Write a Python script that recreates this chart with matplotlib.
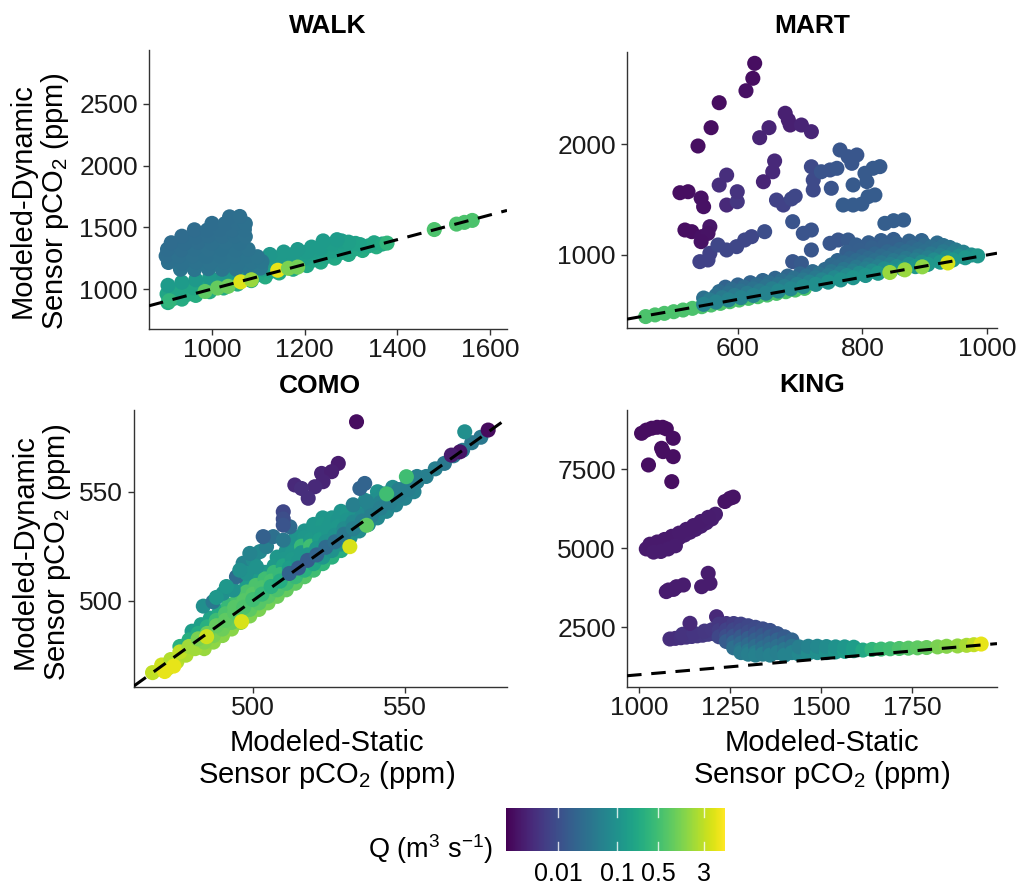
import matplotlib
matplotlib.use("Agg")
import matplotlib.pyplot as plt
from matplotlib import cm
from matplotlib.colors import LogNorm
from matplotlib.ticker import NullLocator

plt.rcParams['font.family'] = ['Liberation Sans', 'DejaVu Sans']
plt.rcParams['mathtext.fontset'] = 'custom'
plt.rcParams['mathtext.rm'] = 'Liberation Sans'
plt.rcParams['mathtext.it'] = 'Liberation Sans:italic'
plt.rcParams['mathtext.bf'] = 'Liberation Sans:bold'
plt.rcParams['lines.scale_dashes'] = False

# ---------------------------------------------------------------------------
# Data: (modeled-static pCO2, modeled-dynamic pCO2, discharge Q) per site
# ---------------------------------------------------------------------------
walk_band = [
    (905, 890, 0.25), (935, 918, 0.25), (965, 948, 0.26), (995, 978, 0.26),
    (1025, 1008, 0.25), (1055, 1040, 0.25), (1085, 1068, 0.24), (1115, 1098, 0.24),
    (1145, 1130, 0.24), (1175, 1160, 0.23), (1205, 1190, 0.22), (1235, 1218, 0.22),
    (1265, 1250, 0.22), (1295, 1280, 0.22), (1325, 1312, 0.24), (1355, 1342, 0.26),
    (918, 925, 0.24), (948, 958, 0.24), (978, 990, 0.24), (1008, 1022, 0.23),
    (1038, 1052, 0.22), (1068, 1085, 0.22), (1098, 1115, 0.21), (1128, 1145, 0.21),
    (1158, 1175, 0.2), (1188, 1205, 0.2), (1218, 1235, 0.2), (1248, 1265, 0.2),
    (1278, 1295, 0.2), (1308, 1325, 0.21), (1338, 1350, 0.22),
    (903, 960, 0.2), (930, 985, 0.2), (960, 1010, 0.2), (990, 1040, 0.19),
    (1020, 1070, 0.18), (1050, 1100, 0.18), (1080, 1130, 0.17), (1110, 1160, 0.17),
    (1140, 1190, 0.17), (1170, 1220, 0.16), (1200, 1250, 0.16), (1230, 1280, 0.16),
    (1260, 1310, 0.16), (1290, 1335, 0.17), (1320, 1360, 0.18), (1350, 1375, 0.2),
    (1368, 1365, 0.22),
    (1100, 1205, 0.15), (1130, 1240, 0.15), (1160, 1270, 0.15), (1190, 1290, 0.15),
    (1220, 1315, 0.15), (1250, 1340, 0.16), (1280, 1360, 0.16), (1310, 1370, 0.18),
    (905, 1030, 0.14), (935, 1055, 0.14), (965, 1075, 0.13), (995, 1095, 0.13),
    (1025, 1110, 0.12), (1055, 1130, 0.12), (1085, 1170, 0.12), (1115, 1225, 0.13),
    (1145, 1255, 0.13), (1175, 1280, 0.13), (1205, 1300, 0.14), (1235, 1330, 0.14),
    (1260, 1365, 0.15), (1280, 1390, 0.15), (1295, 1380, 0.16), (1240, 1390, 0.14),
    (1270, 1400, 0.14), (1215, 1340, 0.14), (1185, 1320, 0.13), (1155, 1300, 0.13),
    (1125, 1280, 0.12),
]
walk_upper = [
    (932, 1160, 0.035), (962, 1158, 0.035), (992, 1165, 0.035), (1022, 1160, 0.036),
    (1052, 1162, 0.036), (1082, 1158, 0.038), (1105, 1170, 0.04),
    (906, 1215, 0.03), (936, 1210, 0.032), (966, 1218, 0.033), (996, 1212, 0.034),
    (1026, 1216, 0.034), (1056, 1210, 0.035), (1086, 1218, 0.036), (1108, 1222, 0.038),
    (901, 1268, 0.028), (928, 1265, 0.03), (958, 1270, 0.031), (988, 1264, 0.032),
    (1018, 1270, 0.033), (1048, 1266, 0.034), (1076, 1270, 0.035), (1098, 1262, 0.036),
    (904, 1322, 0.027), (934, 1318, 0.028), (962, 1325, 0.03), (992, 1320, 0.031),
    (1022, 1324, 0.032), (1052, 1318, 0.033), (1078, 1322, 0.034),
    (912, 1375, 0.026), (942, 1372, 0.027), (970, 1378, 0.028), (1000, 1374, 0.03),
    (1030, 1378, 0.031), (1060, 1372, 0.032),
    (935, 1428, 0.026), (965, 1425, 0.027), (992, 1432, 0.028), (1022, 1428, 0.029),
    (1050, 1430, 0.03), (1072, 1425, 0.031),
    (962, 1480, 0.026), (990, 1478, 0.027), (1016, 1484, 0.028), (1044, 1480, 0.029),
    (1070, 1482, 0.03),
    (1000, 1532, 0.027), (1028, 1530, 0.028), (1055, 1535, 0.029), (1072, 1530, 0.03),
    (1038, 1585, 0.028), (1060, 1588, 0.029),
]
walk_line = [
    (908, 905, 0.35), (985, 980, 0.8), (1012, 1008, 0.9), (1035, 1022, 1.0),
    (1062, 1058, 4.5), (1085, 1075, 1.8), (1142, 1152, 5.0), (1165, 1168, 1.2),
    (1185, 1178, 1.1), (1378, 1372, 0.35), (1480, 1482, 0.6), (1528, 1526, 0.6),
    (1545, 1540, 0.6), (1562, 1556, 0.6),
]

mart_green = [
    (452, 445, 0.6), (467, 460, 0.6), (482, 474, 0.6), (497, 489, 0.6),
    (512, 504, 0.6), (527, 519, 0.6), (542, 534, 0.6), (557, 549, 0.6),
    (572, 564, 0.6), (587, 579, 0.6), (602, 594, 0.6), (617, 609, 0.6),
    (632, 624, 0.6), (647, 639, 0.6), (662, 654, 0.6), (677, 669, 0.6),
    (692, 684, 0.6), (707, 699, 0.6),
]
mart_scatter = [
    (627, 2727, 0.0018), (624, 2592, 0.0018), (613, 2480, 0.0019), (570, 2372, 0.0017),
    (557, 2147, 0.0018), (536, 1982, 0.0018), (507, 1561, 0.0018), (520, 1570, 0.0018),
    (541, 1513, 0.0019), (545, 1435, 0.0019), (515, 1225, 0.0018), (526, 1210, 0.0018),
    (542, 1165, 0.0019), (555, 1255, 0.0022), (552, 1195, 0.002), (541, 1120, 0.0019),
    (570, 1630, 0.004), (582, 1720, 0.004), (582, 1450, 0.0035), (599, 1480, 0.005),
    (599, 1570, 0.0045), (635, 2057, 0.003), (650, 2147, 0.003), (659, 1847, 0.0035),
    (656, 1750, 0.0035), (641, 1660, 0.003), (676, 2277, 0.0028), (681, 2216, 0.0028),
    (684, 2171, 0.0028), (702, 2171, 0.003), (718, 2111, 0.0032),
    (539, 940, 0.007), (555, 1015, 0.007), (568, 1090, 0.008), (582, 1045, 0.008),
    (598, 1075, 0.008), (611, 1135, 0.008), (622, 1165, 0.008), (643, 1210, 0.01),
    (552, 955, 0.007),
    (662, 1495, 0.007), (673, 1450, 0.007), (686, 1505, 0.008), (692, 1530, 0.008),
    (688, 1300, 0.012), (705, 1195, 0.012), (718, 1225, 0.012), (718, 1045, 0.013),
    (688, 940, 0.013), (718, 1795, 0.009), (721, 1676, 0.009), (721, 1586, 0.009),
    (748, 1105, 0.013), (761, 1135, 0.013), (777, 1135, 0.014),
    (734, 1750, 0.012), (748, 1766, 0.012), (759, 1781, 0.013), (750, 1601, 0.012),
    (764, 1946, 0.013), (777, 1886, 0.013), (791, 1901, 0.013), (783, 1826, 0.013),
    (804, 1736, 0.014), (817, 1781, 0.014), (828, 1796, 0.014), (785, 1631, 0.014),
    (807, 1661, 0.014), (769, 1450, 0.015), (785, 1450, 0.015), (799, 1459, 0.015),
    (809, 1525, 0.015), (820, 1541, 0.015), (836, 1285, 0.016), (850, 1309, 0.016),
    (866, 1315, 0.016), (702, 925, 0.014),
]
mart_band_top = [
    (790, 1090, 0.016), (810, 1110, 0.016), (830, 1130, 0.016), (850, 1140, 0.016),
    (775, 1025, 0.017), (795, 1045, 0.017), (815, 1065, 0.018), (835, 1085, 0.018),
    (855, 1105, 0.018), (875, 1125, 0.019), (895, 1130, 0.02),
    (760, 950, 0.02), (780, 970, 0.02), (800, 990, 0.021), (820, 1010, 0.021),
    (840, 1030, 0.022), (860, 1050, 0.022), (880, 1070, 0.023), (900, 1090, 0.024),
    (920, 1108, 0.025),
    (750, 910, 0.024), (770, 930, 0.024), (790, 950, 0.025), (810, 970, 0.025),
    (830, 990, 0.026), (850, 1010, 0.026), (870, 1030, 0.027), (890, 1050, 0.027),
    (910, 1070, 0.028), (930, 1085, 0.03),
]
mart_band_mid = [
    (580, 710, 0.02), (600, 730, 0.02), (620, 750, 0.02), (640, 770, 0.021),
    (660, 790, 0.021), (680, 810, 0.022), (700, 830, 0.022), (720, 850, 0.024),
    (740, 870, 0.025), (760, 890, 0.026), (780, 910, 0.028), (800, 930, 0.03),
    (820, 950, 0.03), (840, 970, 0.03), (860, 990, 0.03), (880, 1010, 0.03),
    (900, 1030, 0.03), (920, 1050, 0.032), (940, 1068, 0.034),
    (570, 670, 0.025), (590, 690, 0.026), (610, 710, 0.026), (630, 730, 0.027),
    (650, 750, 0.028), (670, 770, 0.028), (690, 790, 0.03), (710, 810, 0.032),
    (730, 830, 0.034), (750, 850, 0.036), (770, 870, 0.038), (790, 890, 0.04),
    (810, 910, 0.04), (830, 930, 0.04), (850, 950, 0.04), (870, 970, 0.04),
    (890, 990, 0.04), (910, 1010, 0.04), (930, 1030, 0.042), (950, 1045, 0.045),
    (545, 612, 0.03), (565, 635, 0.03), (585, 655, 0.032), (605, 675, 0.032),
    (625, 695, 0.033), (645, 715, 0.034), (665, 735, 0.035), (685, 755, 0.036),
    (705, 775, 0.04), (725, 795, 0.042), (745, 815, 0.045), (765, 835, 0.048),
    (785, 855, 0.05), (805, 875, 0.05), (825, 895, 0.05), (845, 915, 0.05),
    (865, 935, 0.05), (885, 955, 0.05), (905, 975, 0.05), (925, 995, 0.05),
    (945, 1012, 0.05), (962, 1025, 0.055),
]
mart_band_low = [
    (555, 595, 0.045), (575, 615, 0.045), (595, 635, 0.045), (615, 655, 0.045),
    (635, 675, 0.045), (655, 695, 0.05), (675, 715, 0.05), (695, 735, 0.055),
    (715, 755, 0.06), (735, 775, 0.065), (755, 795, 0.07), (775, 815, 0.075),
    (795, 835, 0.08), (815, 855, 0.08), (835, 875, 0.08), (855, 895, 0.08),
    (875, 915, 0.08), (895, 935, 0.08), (915, 955, 0.08), (935, 975, 0.08),
    (955, 990, 0.08), (975, 1000, 0.09),
    (545, 555, 0.06), (565, 575, 0.06), (585, 595, 0.06), (605, 615, 0.06),
    (625, 635, 0.06), (645, 655, 0.06), (665, 675, 0.07), (685, 695, 0.07),
    (705, 715, 0.08), (725, 735, 0.09), (745, 755, 0.1), (765, 775, 0.1),
    (785, 795, 0.11), (805, 815, 0.11), (825, 835, 0.12), (845, 855, 0.12),
    (865, 875, 0.12), (885, 895, 0.12), (905, 915, 0.12), (925, 935, 0.12),
    (945, 955, 0.12), (965, 975, 0.12), (985, 992, 0.12),
]
mart_line = [(844, 842, 1.8), (868, 866, 1.8), (896, 893, 1.6), (937, 928, 4.0)]

como_upper = [
    (514, 529, 0.11), (517, 532, 0.11), (520, 535, 0.12), (523, 538, 0.12),
    (508, 520, 0.12), (511, 523, 0.11), (514, 526, 0.11), (517, 529, 0.12),
    (520, 532, 0.12), (523, 535, 0.13), (526, 538, 0.12), (529, 541, 0.11),
    (495, 504, 0.15), (498, 507, 0.15), (501, 510, 0.14), (504, 513, 0.13),
    (507, 516, 0.13), (510, 519, 0.12), (513, 522, 0.12), (516, 525, 0.4),
    (519, 528, 0.13), (522, 531, 0.12), (525, 534, 0.12), (528, 537, 0.11),
    (531, 540, 0.12), (534, 543, 0.11), (537, 546, 0.1), (541, 550, 0.1),
    (480, 486, 0.15), (483, 489, 0.16), (486, 492, 0.18), (489, 495, 0.22),
    (492, 498, 0.4), (495, 501, 0.55), (498, 504, 0.6), (501, 507, 0.6),
    (504, 510, 0.5), (507, 513, 0.4), (510, 516, 0.2), (513, 519, 0.13),
    (516, 522, 0.12), (519, 525, 0.5), (522, 528, 0.15), (525, 531, 0.12),
    (528, 534, 0.12), (531, 537, 0.11), (534, 540, 0.1), (537, 543, 0.1),
    (540, 546, 0.09), (543, 549, 0.09), (546, 552, 0.08),
    (476, 479, 0.3), (479, 482, 0.28), (482, 485, 0.25), (485, 488, 0.3),
    (488, 491, 0.45), (491, 494, 0.6), (494, 497, 0.7), (497, 500, 0.7),
    (500, 503, 0.7), (503, 506, 0.6), (506, 509, 0.55), (509, 512, 0.4),
    (512, 515, 0.15), (515, 518, 0.12), (518, 521, 0.12), (521, 524, 0.12),
    (524, 527, 0.1), (527, 530, 0.1), (530, 533, 0.08), (533, 536, 0.07),
    (536, 539, 0.07), (539, 542, 0.06), (542, 545, 0.06), (545, 548, 0.06),
    (548, 551, 0.05), (551, 554, 0.05), (554, 557, 0.05),
]
como_lower = [
    (484, 478, 1.8), (487, 481, 1.6), (490, 484, 1.5), (493, 487, 1.5),
    (496, 490, 1.4), (499, 493, 1.3), (502, 496, 1.2), (505, 499, 1.1),
    (508, 502, 1.0), (511, 505, 0.9), (514, 508, 0.8), (517, 511, 0.7),
    (520, 514, 0.5), (523, 517, 0.35), (526, 520, 0.3), (529, 523, 0.25),
    (472, 469, 2.8), (475, 472, 2.6), (478, 475, 2.4), (481, 478, 2.0),
    (484, 481, 1.4), (487, 484, 1.2), (490, 487, 1.0), (493, 490, 0.9),
    (496, 493, 0.8), (499, 496, 0.8), (502, 499, 0.7), (505, 502, 0.7),
    (508, 505, 0.6), (511, 508, 0.5), (514, 511, 0.4), (517, 514, 0.3),
    (520, 517, 0.2), (523, 520, 0.12), (526, 523, 0.1), (529, 526, 0.1),
    (532, 529, 0.09), (535, 532, 0.08), (538, 535, 0.08), (541, 538, 0.07),
    (544, 541, 0.07), (547, 544, 0.06), (550, 547, 0.06), (553, 550, 0.06),
]
como_line = [
    (467, 467.0, 3.0), (470, 470.5, 3.5), (473, 473.0, 2.5), (476, 476.5, 3.0),
    (479, 479.0, 2.0), (482, 482.5, 1.2), (485, 485.0, 1.0), (488, 488.5, 0.9),
    (491, 491.0, 0.8), (494, 494.5, 0.7), (497, 497.0, 0.6), (500, 500.5, 0.5),
    (503, 503.0, 0.4), (506, 506.5, 0.3), (509, 509.0, 0.25), (512, 512.5, 0.02),
    (515, 515.0, 0.015), (518, 518.5, 0.015), (521, 521.0, 0.02), (524, 524.5, 0.025),
    (527, 527.0, 0.03), (530, 530.5, 0.04), (533, 533.0, 0.05), (536, 536.5, 0.05),
    (539, 539.0, 0.05), (542, 542.5, 0.05), (545, 545.0, 0.05), (548, 548.5, 0.05),
    (551, 551.0, 0.05), (554, 554.5, 0.05), (557, 557.0, 0.05), (560, 560.5, 0.05),
    (563, 563.0, 0.04), (566, 566.5, 0.04), (569, 569.0, 0.04), (572, 572.5, 0.04),
    (575, 575.0, 0.04),
]
como_ridge = [
    (483.7, 497.5, 0.09), (486.9, 499.5, 0.04), (490.2, 503.4, 0.09), (493.5, 504.9, 0.1),
    (494.6, 511.0, 0.025), (496.8, 517.2, 0.06), (497.9, 512.6, 0.1), (500.1, 518.7, 0.08),
    (501.2, 515.6, 0.1), (502.3, 522.5, 0.07), (504.5, 524.8, 0.05), (506.7, 529.4, 0.03),
    (510.0, 527.8, 0.04), (512.2, 533.9, 0.025), (491.3, 506.5, 0.12), (488.0, 501.5, 0.12),
    (499.0, 521.7, 0.06), (503.4, 529.4, 0.018), (495.7, 514.0, 0.09),
]
como_high = [
    (534.1, 582.1, 0.0017), (577.4, 578.3, 0.0016), (569.7, 577.5, 0.09),
    (568.1, 568.3, 0.002), (565.3, 566.8, 0.0025), (528.1, 563.0, 0.0025),
    (522.6, 558.4, 0.003), (525.9, 559.2, 0.0028), (523.1, 554.6, 0.003),
    (520.4, 552.3, 0.0035), (518.2, 547.0, 0.004), (513.8, 553.1, 0.0035),
    (516.0, 551.5, 0.004), (510.0, 540.8, 0.008), (510.0, 537.5, 0.01),
    (510.0, 534.7, 0.012), (535.2, 551.5, 0.02), (536.8, 553.8, 0.02),
    (533.0, 544.0, 0.05), (537.4, 545.4, 0.06), (544.0, 549.0, 0.5),
    (550.5, 556.9, 0.5), (537.4, 534.6, 0.8), (531.9, 524.8, 4.0),
    (496.3, 490.4, 4.0), (484.8, 483.5, 3.5), (471.0, 467.5, 5.0), (474.0, 470.0, 5.0),
]

king_high = [
    (1007, 8640, 0.0017), (1020, 8740, 0.0017), (1035, 8800, 0.0017), (1050, 8830, 0.0017),
    (1065, 8830, 0.0017), (1075, 8780, 0.0017), (1094, 8482, 0.0018), (1062, 8165, 0.0018),
    (1066, 8060, 0.0018), (1094, 7900, 0.0018), (1026, 7637, 0.0018), (1090, 7110, 0.0018),
    (1250, 6583, 0.002), (1236, 6480, 0.002), (1259, 6620, 0.002),
    (1020, 4980, 0.0024), (1035, 4990, 0.0024), (1050, 5020, 0.0024), (1065, 5080, 0.0024),
    (1080, 5150, 0.0024), (1095, 5230, 0.0025), (1110, 5330, 0.0025), (1125, 5420, 0.0025),
    (1140, 5510, 0.0025), (1155, 5600, 0.0025), (1170, 5700, 0.0026), (1185, 5810, 0.0026),
    (1200, 5930, 0.0026), (1210, 6080, 0.0026),
    (1030, 5130, 0.0023), (1050, 5200, 0.0023), (1070, 5280, 0.0023), (1090, 5380, 0.0023),
    (1110, 5480, 0.0024), (1130, 5600, 0.0024), (1150, 5720, 0.0024), (1170, 5850, 0.0024),
    (1190, 5980, 0.0025),
    (1040, 4880, 0.0025), (1060, 4900, 0.0025), (1080, 4980, 0.0025), (1100, 5080, 0.0025),
    (1190, 4209, 0.0025), (1195, 3892, 0.0025), (1172, 3785, 0.0025), (1081, 3681, 0.0025),
    (1103, 3785, 0.0025), (1122, 3839, 0.0025), (1075, 3630, 0.0025), (1095, 3700, 0.0025),
]
king_low = [
    (1085, 2130, 0.004), (1100, 2150, 0.004), (1115, 2170, 0.0042), (1130, 2190, 0.0045),
    (1145, 2210, 0.0048), (1160, 2230, 0.005), (1175, 2250, 0.0052), (1190, 2280, 0.0055),
    (1205, 2300, 0.0058), (1120, 2280, 0.0045), (1150, 2320, 0.0048), (1180, 2380, 0.005),
    (1200, 2420, 0.0052), (1140, 2627, 0.0035), (1213, 2836, 0.0035),
    (1220, 2600, 0.005), (1220, 2400, 0.006), (1220, 2200, 0.008),
    (1240, 2620, 0.005), (1240, 2420, 0.007), (1240, 2220, 0.01), (1240, 2050, 0.015),
    (1260, 2620, 0.006), (1260, 2420, 0.008), (1260, 2220, 0.012), (1260, 2020, 0.02),
    (1260, 1850, 0.03),
    (1280, 2600, 0.007), (1280, 2400, 0.009), (1280, 2200, 0.014), (1280, 2000, 0.022),
    (1280, 1800, 0.035), (1280, 1700, 0.045),
    (1300, 2550, 0.008), (1300, 2350, 0.01), (1300, 2150, 0.016), (1300, 1950, 0.025),
    (1300, 1750, 0.04), (1300, 1650, 0.05),
    (1320, 2500, 0.009), (1320, 2300, 0.012), (1320, 2100, 0.018), (1320, 1900, 0.028),
    (1320, 1700, 0.045), (1320, 1620, 0.055),
    (1340, 2450, 0.01), (1340, 2250, 0.014), (1340, 2050, 0.02), (1340, 1850, 0.032),
    (1340, 1650, 0.05),
    (1360, 2400, 0.011), (1360, 2200, 0.016), (1360, 2000, 0.024), (1360, 1800, 0.035),
    (1360, 1620, 0.055),
    (1380, 2300, 0.013), (1380, 2100, 0.02), (1380, 1900, 0.03), (1380, 1700, 0.05),
    (1400, 2200, 0.015), (1400, 2000, 0.025), (1400, 1800, 0.04), (1400, 1620, 0.06),
    (1420, 2100, 0.02), (1420, 1900, 0.035), (1420, 1700, 0.06),
    (1440, 1650, 0.07), (1440, 1880, 0.05), (1465, 1680, 0.08), (1465, 1900, 0.06),
    (1490, 1700, 0.09), (1490, 1900, 0.07), (1515, 1700, 0.1), (1515, 1890, 0.08),
    (1540, 1720, 0.12), (1540, 1880, 0.1), (1565, 1740, 0.15), (1565, 1880, 0.12),
    (1590, 1760, 0.18), (1590, 1870, 0.15), (1615, 1780, 0.22),
    (1640, 1800, 0.35), (1665, 1810, 0.45), (1690, 1820, 0.5), (1715, 1830, 0.6),
    (1740, 1840, 0.7), (1765, 1850, 0.8), (1790, 1860, 0.9),
    (1820, 1880, 1.2), (1845, 1900, 1.4), (1875, 1910, 1.7), (1900, 1930, 2.2),
    (1920, 1950, 3.0), (1940, 1970, 5.0),
]

panels = ["WALK", "MART", "COMO", "KING"]
panel_layers = {
    "WALK": [walk_band, walk_upper, walk_line],
    "MART": [mart_green, mart_scatter, mart_band_top, mart_band_mid, mart_band_low, mart_line],
    "COMO": [como_upper, como_lower, como_line, como_ridge, como_high],
    "KING": [king_high, king_low],
}
x_limits = {"WALK": (864, 1637), "MART": (422, 1016), "COMO": (460.9, 583.6), "KING": (967, 1983.5)}
y_limits = {"WALK": (676, 2937), "MART": (342, 2829), "COMO": (460.4, 587.5), "KING": (611, 9377)}
x_ticks = {"WALK": [1000, 1200, 1400, 1600], "MART": [600, 800, 1000],
           "COMO": [500, 550], "KING": [1000, 1250, 1500, 1750]}
y_ticks = {"WALK": [1000, 1500, 2000, 2500], "MART": [1000, 2000],
           "COMO": [500, 550], "KING": [2500, 5000, 7500]}
q_ticks = [0.01, 0.1, 0.5, 3]
q_tick_labels = ["0.01", "0.1", "0.5", "3"]

# ---------------------------------------------------------------------------
# Layout (pixel boxes: left, top, right, bottom)
# ---------------------------------------------------------------------------
W, H = 1022, 888
fig = plt.figure(figsize=(W / 100, H / 100), dpi=100)


def box(l, t, r, b):
    return [l / W, 1 - b / H, (r - l) / W, (b - t) / H]


panel_boxes = {
    "WALK": (149, 50, 507, 329),
    "MART": (627, 52, 997, 328),
    "COMO": (134, 410, 507, 687),
    "KING": (627, 410, 997, 687),
}
title_pos = {"WALK": (328, 33), "MART": (812, 33), "COMO": (320, 393), "KING": (812, 392)}

norm = LogNorm(vmin=0.0013, vmax=6.8)
cmap = plt.get_cmap("viridis")
axis_col = "#333333"

for name in panels:
    ax = fig.add_axes(box(*panel_boxes[name]))
    for layer in panel_layers[name]:
        xs = [p[0] for p in layer]
        ys = [p[1] for p in layer]
        qs = [p[2] for p in layer]
        ax.scatter(xs, ys, c=qs, cmap=cmap, norm=norm, s=118,
                   edgecolors="none", zorder=2)
    ax.axline((0, 0), slope=1, color="black", lw=2.2, dashes=(10.5, 7), zorder=3)
    ax.set_xlim(*x_limits[name])
    ax.set_ylim(*y_limits[name])
    ax.set_xticks(x_ticks[name])
    ax.set_yticks(y_ticks[name])
    for side in ("top", "right"):
        ax.spines[side].set_visible(False)
    for side in ("left", "bottom"):
        ax.spines[side].set_color(axis_col)
        ax.spines[side].set_linewidth(1.0)
    ax.tick_params(length=4, width=1, color=axis_col, labelsize=19,
                   labelcolor="#1a1a1a")
    ax.tick_params(axis="x", pad=2.5)
    ax.tick_params(axis="y", pad=4)
    tx, ty = title_pos[name]
    fig.text(tx / W, 1 - ty / H, name, ha="center", va="baseline",
             fontsize=19, fontweight="bold")

ylab = "Modeled-Dynamic\nSensor pCO$_2$ (ppm)"
xlab = "Modeled-Static\nSensor pCO$_2$ (ppm)"
fig.text(40 / W, 1 - 201 / H, ylab, rotation=90, ha="center", va="center",
         fontsize=21, multialignment="center", linespacing=1.1)
fig.text(42 / W, 1 - 552 / H, ylab, rotation=90, ha="center", va="center",
         fontsize=21, multialignment="center", linespacing=1.1)
fig.text(327 / W, 1 - 760 / H, xlab, ha="center", va="center",
         fontsize=21, multialignment="center", linespacing=1.1)
fig.text(822 / W, 1 - 760 / H, xlab, ha="center", va="center",
         fontsize=21, multialignment="center", linespacing=1.1)

# Discharge colour bar
cax = fig.add_axes(box(506, 808, 725, 851))
sm = cm.ScalarMappable(norm=norm, cmap=cmap)
cb = fig.colorbar(sm, cax=cax, orientation="horizontal")
cb.outline.set_visible(False)
cb.set_ticks(q_ticks)
cb.set_ticklabels(q_tick_labels)
cax.xaxis.set_minor_locator(NullLocator())
cax.tick_params(length=0, pad=8, labelsize=18)
for v in q_ticks:
    cax.axvline(v, ymin=0, ymax=0.2, color="white", lw=1.0, alpha=0.8)
    cax.axvline(v, ymin=0.8, ymax=1, color="white", lw=1.0, alpha=0.8)
fig.text(493 / W, 1 - 858 / H, "Q (m$^{3}$ s$^{-1}$)", ha="right", va="baseline",
         fontsize=19.5)

fig.savefig("out.png", dpi=100)
